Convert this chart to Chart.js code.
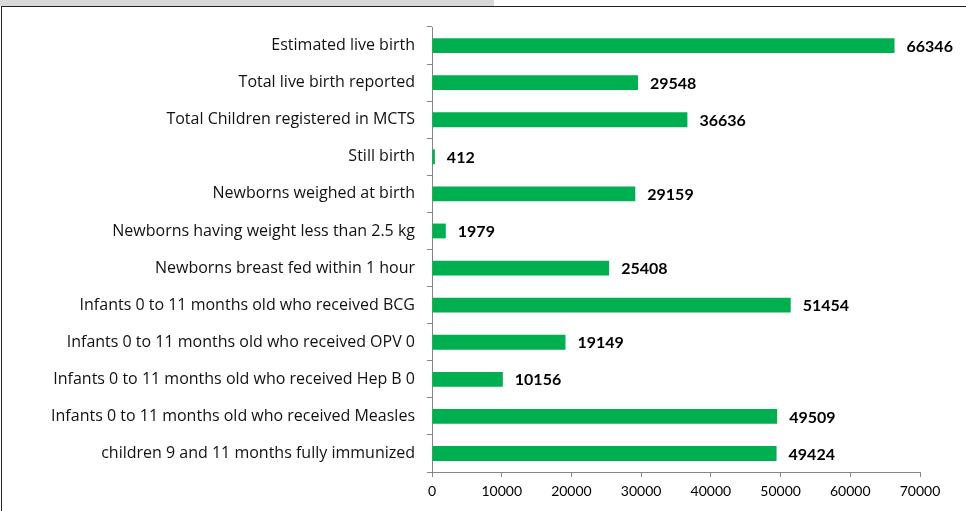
<!DOCTYPE html>
<html>
<head>
<meta charset="utf-8">
<script src="https://cdn.jsdelivr.net/npm/chart.js@4"></script>
<style>
    html, body { margin: 0; padding: 0; background: #fff; }
    body { width: 966px; height: 511px; position: relative; overflow: hidden; }
    .topband { position: absolute; left: 0; top: 0; width: 494px; height: 6px; background: #d9d9d9; }
    .frame { position: absolute; left: 1px; top: 6px; width: 980px; height: 520px; border: 1px solid #222; box-sizing: border-box; }
    #wrap { position: absolute; left: 0; top: 0; width: 966px; height: 511px; }
</style>
</head>
<body>
<div class="topband"></div>
<div class="frame"></div>
<div id="wrap"><canvas id="chart"></canvas></div>
<script>
const categories = [
    'Estimated live birth',
    'Total live birth reported',
    'Total Children registered in MCTS',
    'Still birth',
    'Newborns weighed at birth',
    'Newborns having weight less than 2.5 kg',
    'Newborns breast fed within 1 hour',
    'Infants 0 to 11 months old who received BCG',
    'Infants 0 to 11 months old who received OPV 0',
    'Infants 0 to 11 months old who received Hep B 0',
    'Infants 0 to 11 months old who received Measles',
    'children 9 and 11 months fully immunized'
];
const values = [66346, 29548, 36636, 412, 29159, 1979, 25408, 51454, 19149, 10156, 49509, 49424];
const xTicks = [0, 10000, 20000, 30000, 40000, 50000, 60000, 70000];

const FONT = 'Lato, "Open Sans", sans-serif';
const CAT_FONT = '"Open Sans", Lato, sans-serif';

// draw the value next to each bar
const valueLabels = {
    id: 'valueLabels',
    afterDatasetsDraw(chart) {
        const ctx = chart.ctx;
        const meta = chart.getDatasetMeta(0);
        ctx.save();
        ctx.font = 'bold 16px ' + FONT;
        ctx.fillStyle = '#000';
        ctx.textAlign = 'left';
        ctx.textBaseline = 'middle';
        meta.data.forEach((bar, i) => {
            ctx.fillText(String(values[i]), bar.x + 12, bar.y + 1);
        });
        ctx.restore();
    }
};

new Chart(document.getElementById('chart'), {
    type: 'bar',
    data: {
        labels: categories,
        datasets: [{
            data: values,
            backgroundColor: '#00b050',
            borderWidth: 0,
            categoryPercentage: 1,
            barPercentage: 0.4
        }]
    },
    options: {
        indexAxis: 'y',
        responsive: true,
        maintainAspectRatio: false,
        animation: false,
        layout: { padding: { left: 0, right: 46, top: 27, bottom: 0 } },
        plugins: { legend: { display: false }, tooltip: { enabled: false } },
        scales: {
            x: {
                min: 0,
                max: 70000,
                afterBuildTicks: (scale) => { scale.ticks = xTicks.map(v => ({ value: v })); },
                afterFit: (scale) => { scale.height = 39; },
                grid: { drawOnChartArea: false, tickLength: 5, color: '#868686' },
                border: { color: '#868686' },
                ticks: {
                    color: '#000', font: { family: FONT, size: 14 }, padding: 6, maxRotation: 0,
                    callback: (v) => String(v)
                }
            },
            y: {
                afterFit: (scale) => { scale.width = 432; },
                grid: { drawOnChartArea: false, tickLength: 5, color: '#868686', offset: true },
                border: { color: '#868686' },
                ticks: { color: '#111', font: { family: CAT_FONT, size: 16 }, padding: 12 }
            }
        }
    },
    plugins: [valueLabels]
});
</script>
</body>
</html>
